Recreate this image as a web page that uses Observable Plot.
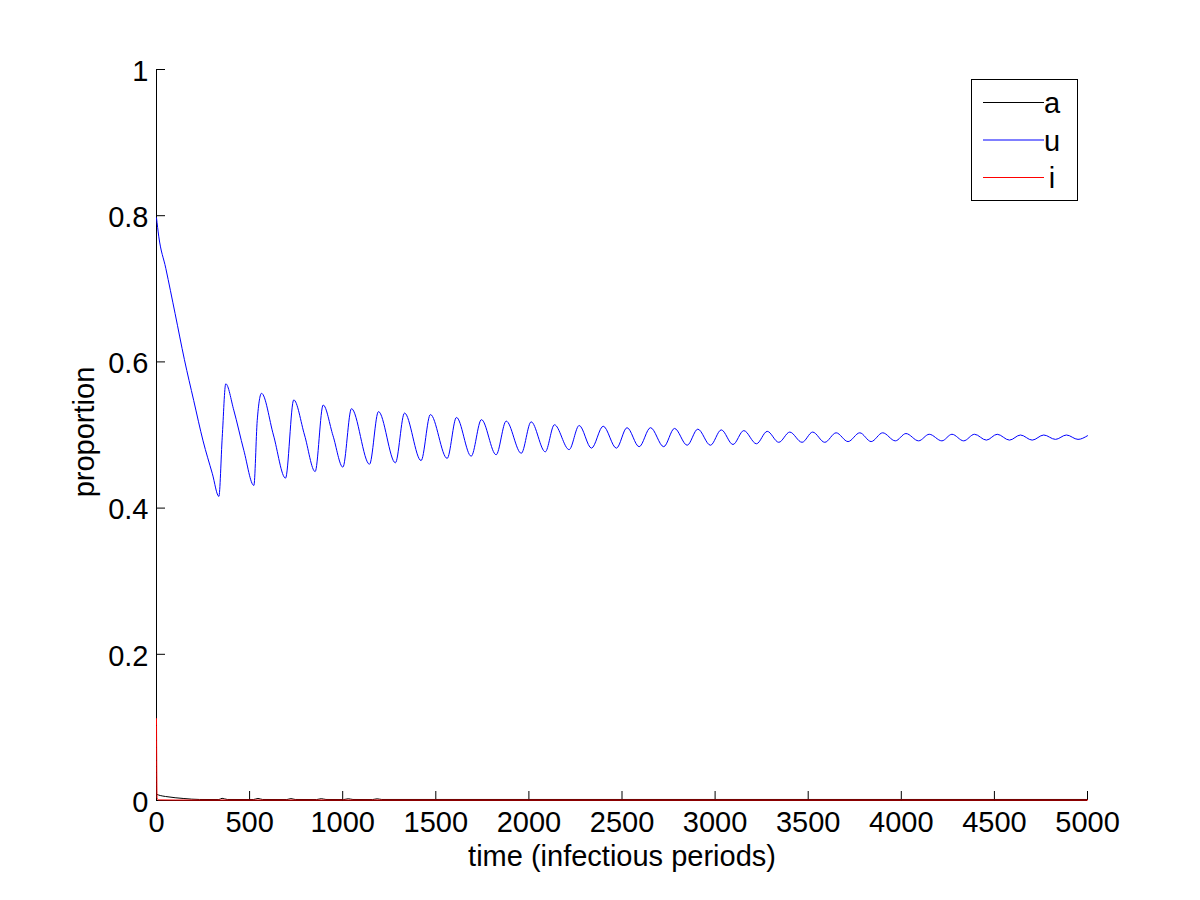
<!DOCTYPE html>
<html>
<head>
<meta charset="utf-8">
<script src="https://cdn.jsdelivr.net/npm/d3@7"></script>
<script src="https://cdn.jsdelivr.net/npm/@observablehq/plot@0.6"></script>
<style>
  html, body { margin: 0; padding: 0; background: #ffffff; }
  #chart { width: 1200px; height: 900px; }
</style>
</head>
<body>
<div id="chart"></div>
<script>
// ---------- data ----------
const seriesNames = ["a", "u", "i"];
const seriesColors = ["#000000", "#0000ff", "#ff0000"];

const uTime = [0, 12, 50, 100, 150, 200, 250, 300, 335, 353, 372, 415, 469, 523, 541, 564, 628, 693, 737, 795, 852, 895, 948, 1001, 1047, 1144, 1192, 1283, 1332, 1421, 1471, 1561, 1611, 1690, 1745, 1824, 1878, 1959, 2012, 2088, 2137, 2216, 2270, 2336, 2399, 2470, 2527, 2592, 2653, 2724, 2782, 2850, 2907, 2975, 3033, 3096, 3154, 3222, 3280, 3342, 3401, 3467, 3524, 3589, 3650, 3714, 3777, 3838, 3900, 3968, 4025, 4093, 4150, 4218, 4272, 4335, 4393, 4457, 4515, 4581, 4640, 4703, 4765, 4828, 4887, 4949, 5000];
const uValue = [0.797, 0.772, 0.728, 0.666, 0.603, 0.547, 0.492, 0.447, 0.416, 0.497, 0.570, 0.534, 0.479, 0.431, 0.520, 0.557, 0.500, 0.441, 0.548, 0.500, 0.450, 0.541, 0.499, 0.456, 0.536, 0.460, 0.532, 0.462, 0.530, 0.465, 0.528, 0.468, 0.524, 0.471, 0.521, 0.473, 0.519, 0.475, 0.518, 0.477, 0.514, 0.480, 0.513, 0.482, 0.512, 0.482, 0.510, 0.484, 0.510, 0.484, 0.509, 0.486, 0.508, 0.486, 0.507, 0.487, 0.506, 0.488, 0.505, 0.490, 0.504, 0.490, 0.504, 0.490, 0.503, 0.491, 0.503, 0.491, 0.503, 0.492, 0.502, 0.492, 0.501, 0.492, 0.501, 0.492, 0.501, 0.493, 0.501, 0.493, 0.500, 0.493, 0.500, 0.494, 0.500, 0.494, 0.499];

const aTime = [0, 20, 48, 100, 147, 231, 335, 352, 380, 520, 545, 570, 700, 722, 745, 860, 885, 910, 1005, 1030, 1055, 1160, 1185, 1210, 1500, 2000, 3000, 4000, 5000];
const aValue = [0.0085, 0.0068, 0.0055, 0.0038, 0.0027, 0.0014, 0.0013, 0.0030, 0.0014, 0.0013, 0.0028, 0.0014, 0.0013, 0.0026, 0.0014, 0.0013, 0.0025, 0.0014, 0.0013, 0.0024, 0.0014, 0.0013, 0.0023, 0.0014, 0.0014, 0.0014, 0.0014, 0.0014, 0.0014];

const iTime = [0, 3, 10, 100, 1000, 2000, 3000, 4000, 5000];
const iValue = [0.112, 0.004, 0.0008, 0.0006, 0.0006, 0.0006, 0.0006, 0.0006, 0.0006];

const xTicks = [0, 500, 1000, 1500, 2000, 2500, 3000, 3500, 4000, 4500, 5000];
const yTicks = [0, 0.2, 0.4, 0.6, 0.8, 1];
const xLabel = "time (infectious periods)";
const yLabel = "proportion";

// ---------- build table ----------
const toRows = (name, ts, vs) => ts.map((t, k) => ({series: name, t, v: vs[k]}));
const rows = [
  ...toRows("a", aTime, aValue),
  ...toRows("u", uTime, uValue),
  ...toRows("i", iTime, iValue)
];

const font = "'Liberation Sans', Arial, Helvetica, sans-serif";
const fs = 29;

const chart = Plot.plot({
  width: 1200,
  height: 900,
  marginLeft: 156,
  marginRight: 113,
  marginTop: 69,
  marginBottom: 100,
  style: {fontFamily: font, fontSize: fs + "px", color: "#000", background: "#fff"},
  x: {domain: [0, 5000], label: null},
  y: {domain: [0, 1], label: null},
  color: {domain: seriesNames, range: seriesColors},
  marks: [
    Plot.ruleX([0], {stroke: "#000"}),
    Plot.ruleY([0], {stroke: "#000"}),
    // inward ticks
    Plot.axisX(xTicks, {anchor: "bottom", tickSize: 9, dy: -9, fill: "none", label: null}),
    Plot.axisY(yTicks, {anchor: "left", tickSize: 9, dx: 9, fill: "none", label: null}),
    // tick labels
    Plot.axisX(xTicks, {anchor: "bottom", tickSize: 0, tickPadding: 11, fontSize: fs, label: null, tickFormat: d => String(d)}),
    Plot.axisY(yTicks, {anchor: "left", tickSize: 0, tickPadding: 8, dy: 2, fontSize: fs, label: null, tickFormat: d => String(d)}),
    // series
    Plot.line(rows, {x: "t", y: "v", z: "series", stroke: "series", strokeWidth: 1, curve: "monotone-x"}),
    // axis titles
    Plot.text([xLabel], {text: d => d, frameAnchor: "bottom", lineAnchor: "middle", textAnchor: "middle", dy: 56, fontSize: fs, fill: "#000"}),
    Plot.text([yLabel], {text: d => d, frameAnchor: "left", lineAnchor: "middle", textAnchor: "middle", rotate: -90, dx: -72, dy: -3, fontSize: fs, fill: "#000"})
  ]
});

// ---------- legend (inside axes, top right) ----------
const svg = d3.select(chart);
const lg = svg.append("g").attr("class", "legend");
lg.append("rect")
  .attr("x", 971.5).attr("y", 79.5).attr("width", 106).attr("height", 121)
  .attr("fill", "#fff").attr("stroke", "#000").attr("stroke-width", 1);
const rowY = [102, 139.5, 177];
seriesNames.forEach((name, k) => {
  lg.append("line")
    .attr("x1", 983).attr("x2", 1044)
    .attr("y1", rowY[k] + 0.5).attr("y2", rowY[k] + 0.5)
    .style("stroke", seriesColors[k]).style("stroke-width", "1px");
  lg.append("text")
    .attr("x", 1052).attr("y", rowY[k] + 11)
    .attr("font-size", fs).attr("font-family", font).attr("fill", "#000")
    .text(name);
});

document.getElementById("chart").appendChild(chart);
</script>
</body>
</html>
